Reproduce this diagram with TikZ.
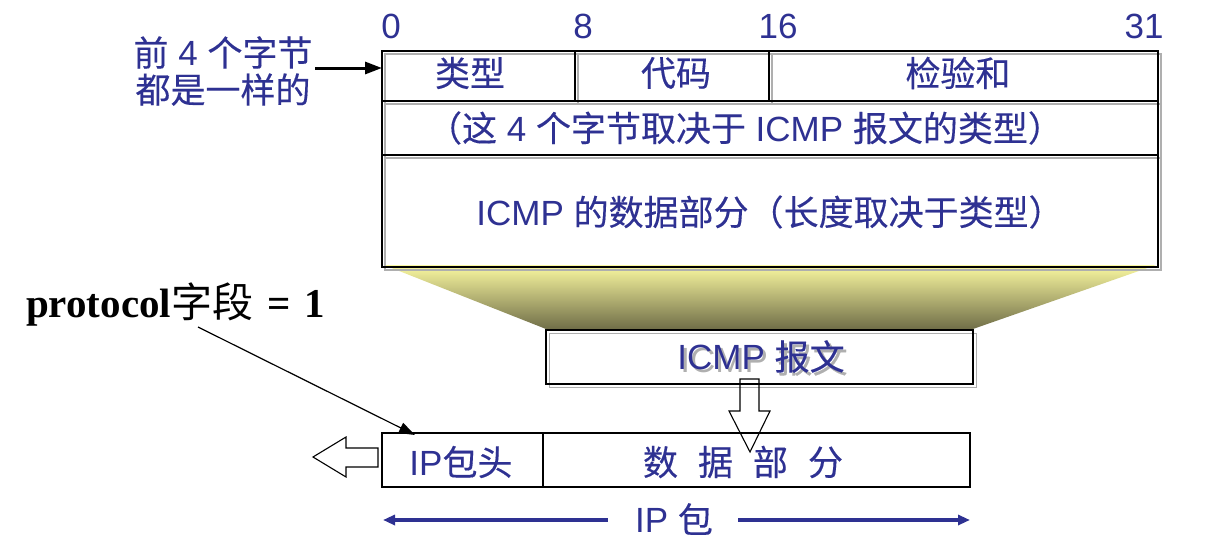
\documentclass[tikz,border=0pt]{standalone}
\usepackage{fontspec}
\setmainfont{Liberation Sans}
\newfontfamily\cjk[FakeBold=0.3]{Noto Sans CJK SC}
\newfontfamily\cjkthin{Noto Sans CJK SC}
\newfontfamily\tnr{Liberation Serif}
\usetikzlibrary{arrows.meta}
\newcommand{\zh}[1]{{\cjk #1}}
\definecolor{navy}{RGB}{46,49,146}
\definecolor{shadowgray}{RGB}{175,175,175}
\definecolor{ylw}{RGB}{250,248,160}
\definecolor{olive}{RGB}{112,110,72}
\newcommand{\shadowtext}[1]{\makebox[0pt][l]{\hspace{3pt}\raisebox{-3pt}{\textcolor{shadowgray}{#1}}}#1}
\begin{document}
\begin{tikzpicture}[x=1pt,y=-1pt,
  lbl/.style={text=navy,font=\fontsize{35}{37}\selectfont,inner sep=0pt},
  boxline/.style={draw=black,line width=1.2pt},
  shd/.style={draw=shadowgray,line width=1.2pt},
  cellbox/.style={draw=black,line width=1.2pt,inner sep=0pt},
  hollow/.style={draw=black,line width=1.1pt,line join=miter},
  navyarrow/.style={draw=navy,line width=3.5pt,-{Triangle[length=12pt,width=10pt]}},
]
\useasboundingbox (0,0) rectangle (1208,538);

% funnel
\shade[top color=ylw,bottom color=olive] (384,265) -- (1156,265) -- (973,329) -- (546,329) -- cycle;

% top grid: shadow
\draw[shd] (385,54) rectangle (1161,270);
\draw[shd] (385,104) -- (1161,104) (385,158) -- (1161,158)
  (578,54) -- (578,104) (772,54) -- (772,104);
% top grid
\draw[boxline] (382,51) rectangle (1158,267);
\draw[boxline] (382,101) -- (1158,101) (382,155) -- (1158,155)
  (575,51) -- (575,101) (769,51) -- (769,101);
\coordinate (gridin) at (382,68);

% bit numbers
\node[lbl] (b0) at (391,26) {0};
\node[lbl] (b8) at (583,26) {8};
\node[lbl] (b16) at (778,26) {16};
\node[lbl] (b31) at (1144,26) {31};

% field texts
\node[lbl] (ftype) at (470,73) {\zh{类型}};
\node[lbl] (fcode) at (676,73) {\zh{代码}};
\node[lbl] (fsum) at (958,73) {\zh{检验和}};
\node[lbl] (frow2) at (745,128) {\zh{（这} 4 \zh{个字节取决于} ICMP \zh{报文的类型）}};
\node[lbl] (frow3) at (770,212) {ICMP \zh{的数据部分（长度取决于类型）}};

% left label
\node[lbl,align=center] (first4) at (223,71) {\zh{前} 4 \zh{个字节}\\\zh{都是一样的}};
\coordinate (first4out) at (315,68);
\draw[line width=3pt,-{Triangle[length=17pt,width=12pt]}] (first4out) -- (gridin);

% ICMP message box
\draw[shd] (549.5,333.5) rectangle (976.5,387.5);
\node[cellbox,minimum width=427pt,minimum height=54pt] (icmp) at (759.5,357) {};
\node[lbl] (icmptext) at (761,358) {\shadowtext{ICMP \zh{报文}}};

% IP packet
\node[cellbox,minimum width=161pt,minimum height=54pt] (iphdr) at (462.5,460) {};
\node[cellbox,minimum width=427pt,minimum height=54pt] (ipdata) at (756.5,460) {};
\node[lbl] (iphdrtext) at (461,462) {IP\zh{包头}};
\node[lbl] (ipdatatext) at (743,462) {\zh{数}\hspace{20pt}\zh{据}\hspace{20pt}\zh{部}\hspace{20pt}\zh{分}};

% hollow arrows
\draw[hollow] (740,379) -- (740,411) -- (729,411) -- (750,452) -- (770,411) -- (759,411) -- (759,379) -- cycle;
\draw[hollow] (378,448) -- (346,448) -- (346,437) -- (313,457) -- (346,477) -- (346,467) -- (378,467) -- cycle;

% protocol label
\node[anchor=base west,inner sep=0pt,font=\fontsize{41}{45}\selectfont] (proto) at (26,317)
  {{\tnr\bfseries protocol}{\cjkthin 字段}\hspace{3pt} {\tnr\bfseries =\hspace{3pt} 1}};
\coordinate (protoout) at (198,327);
\coordinate (protoin) at (415,435);
\draw[line width=1.2pt,-{Triangle[length=16pt,width=11pt]}] (protoout) -- (protoin);

% IP packet span
\node[lbl] (iplabel) at (674,519) {IP \zh{包}};
\coordinate (spanl) at (383,520);
\coordinate (spanr) at (970,520);
\draw[navyarrow] (iplabel.west) ++(-27,1) -- (spanl);
\draw[navyarrow] (iplabel.east) ++(25,1) -- (spanr);
\end{tikzpicture}
\end{document}
